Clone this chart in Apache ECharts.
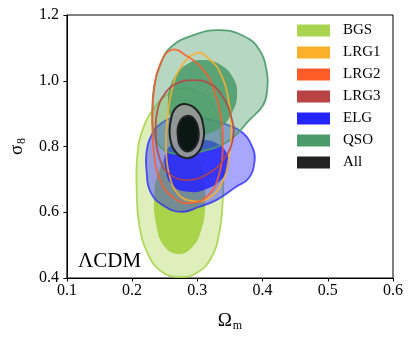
<!DOCTYPE html>
<html>
<head>
<meta charset="utf-8">
<script src="https://cdn.jsdelivr.net/npm/echarts@6/dist/echarts.min.js"></script>
<style>
  html, body { margin: 0; padding: 0; background: #fff; }
  #chart { width: 413px; height: 340px; }
</style>
</head>
<body>
<div id="chart"></div>
<script>
// tracers, in legend order
const tracers = ["BGS", "LRG1", "LRG2", "LRG3", "ELG", "QSO", "All"];
const xTicks = [0.1, 0.2, 0.3, 0.4, 0.5, 0.6];
const yTicks = [0.4, 0.6, 0.8, 1.0, 1.2];

// contour outlines, [Omega_m, sigma_8]
const bgs95 = [[0.279,0.978],[0.305,0.963],[0.323,0.926],[0.335,0.850],[0.339,0.759],[0.339,0.637],[0.333,0.531],[0.321,0.461],[0.299,0.415],[0.272,0.403],[0.246,0.418],[0.225,0.470],[0.211,0.561],[0.207,0.668],[0.208,0.774],[0.217,0.856],[0.234,0.917],[0.255,0.960]];
const bgs68 = [[0.279,0.795],[0.299,0.771],[0.309,0.713],[0.312,0.622],[0.306,0.546],[0.291,0.491],[0.270,0.473],[0.249,0.497],[0.237,0.561],[0.234,0.652],[0.242,0.729],[0.258,0.780]];
const lrg1_95 = [[0.299,1.084],[0.320,1.063],[0.335,1.024],[0.347,0.951],[0.352,0.865],[0.348,0.759],[0.336,0.683],[0.317,0.643],[0.294,0.634],[0.272,0.652],[0.257,0.713],[0.252,0.805],[0.255,0.902],[0.261,0.972],[0.272,1.033]];
const lrg2_95 = [[0.260,1.094],[0.284,1.075],[0.309,1.033],[0.324,0.981],[0.335,0.902],[0.339,0.805],[0.333,0.713],[0.317,0.652],[0.291,0.628],[0.264,0.643],[0.243,0.698],[0.233,0.789],[0.231,0.896],[0.234,0.978],[0.242,1.045]];
const lrg3_95 = [[0.294,1.002],[0.320,0.990],[0.339,0.951],[0.352,0.890],[0.355,0.829],[0.342,0.765],[0.320,0.722],[0.287,0.698],[0.257,0.716],[0.242,0.765],[0.236,0.850],[0.239,0.911],[0.249,0.957],[0.267,0.990]];
const elg95 = [[0.269,0.890],[0.309,0.887],[0.347,0.865],[0.370,0.841],[0.385,0.795],[0.388,0.759],[0.379,0.704],[0.359,0.677],[0.329,0.637],[0.302,0.616],[0.276,0.601],[0.249,0.619],[0.228,0.662],[0.222,0.729],[0.222,0.783],[0.230,0.835],[0.245,0.871]];
const elg68 = [[0.302,0.820],[0.329,0.811],[0.345,0.780],[0.347,0.738],[0.336,0.698],[0.314,0.671],[0.287,0.662],[0.261,0.683],[0.251,0.735],[0.252,0.783],[0.267,0.811]];
const qso95 = [[0.336,1.154],[0.374,1.133],[0.395,1.094],[0.406,1.033],[0.407,0.972],[0.401,0.926],[0.380,0.881],[0.350,0.820],[0.309,0.786],[0.272,0.777],[0.245,0.796],[0.233,0.844],[0.231,0.911],[0.234,0.987],[0.243,1.048],[0.258,1.100],[0.294,1.139]];
const qso68 = [[0.309,1.063],[0.336,1.048],[0.355,1.008],[0.361,0.957],[0.353,0.902],[0.336,0.859],[0.309,0.835],[0.282,0.835],[0.261,0.881],[0.255,0.941],[0.264,1.008],[0.285,1.051]];
const all95 = [[0.281,0.929],[0.299,0.911],[0.309,0.865],[0.308,0.811],[0.297,0.774],[0.282,0.765],[0.267,0.783],[0.258,0.829],[0.260,0.887],[0.267,0.917]];
const all68 = [[0.284,0.893],[0.296,0.881],[0.302,0.844],[0.299,0.808],[0.288,0.786],[0.276,0.795],[0.270,0.832],[0.273,0.875]];

const contours = {
  BGS: [bgs95, bgs68],
  LRG1: [lrg1_95],
  LRG2: [lrg2_95],
  LRG3: [lrg3_95],
  ELG: [elg95, elg68],
  QSO: [qso95, qso68],
  All: [all95, all68]
};

// colour, then fill of outer / inner region (null = outline only)
const styles = {
  BGS:  { color: "#aad44f", outer: "rgba(170,212,79,0.38)", inner: "rgba(166,209,70,0.95)", stroke: "rgba(170,212,79,0.9)", lw: 1.8 },
  LRG1: { color: "#fbb02c", outer: null, inner: null, stroke: "rgba(251,176,44,0.85)", lw: 1.8 },
  LRG2: { color: "#ff5c2a", outer: null, inner: null, stroke: "rgba(255,92,42,0.85)", lw: 1.8 },
  LRG3: { color: "#b94242", outer: null, inner: null, stroke: "rgba(185,66,66,0.85)", lw: 1.8 },
  ELG:  { color: "#2424ff", outer: "rgba(36,36,255,0.4)", inner: "rgba(36,36,255,0.85)", stroke: "rgba(36,36,255,0.75)", lw: 1.8 },
  QSO:  { color: "#4a9a6a", outer: "rgba(74,154,106,0.4)", inner: "rgba(74,154,106,0.85)", stroke: "rgba(74,154,106,0.9)", lw: 1.8 },
  All:  { color: "#222222", outer: "rgba(150,152,152,0.92)", inner: "#0b1712", stroke: "#222222", lw: 2 }
};

// draw order (legend keeps its own order)
const drawOrder = ["BGS", "ELG", "QSO", "LRG1", "LRG2", "LRG3", "All"];

const font = "Liberation Serif";

function makeSeries(name) {
  const sets = contours[name];
  const st = styles[name];
  return {
    name: name,
    type: "custom",
    coordinateSystem: "cartesian2d",
    itemStyle: { color: st.color },
    data: sets.map(c => c[0]),
    renderItem: function (params, api) {
      const pts = sets[params.dataIndex].map(p => api.coord(p));
      const outer = params.dataIndex === 0;
      const fill = outer ? st.outer : st.inner;
      return {
        type: "polygon",
        shape: { points: pts, smooth: 0.45 },
        style: {
          fill: fill || "none",
          stroke: outer || name === "All" ? st.stroke : null,
          lineWidth: st.lw
        }
      };
    }
  };
}

const chart = echarts.init(document.getElementById("chart"), null, { renderer: "canvas" });

const option = {
  animation: false,
  backgroundColor: "#fff",
  grid: { left: 61, right: 20, top: 15, bottom: 62, show: true, borderColor: "#000", borderWidth: 1 },
  legend: {
    orient: "vertical",
    left: 297,
    top: 23,
    padding: 0,
    itemWidth: 33,
    itemHeight: 12,
    itemGap: 7,
    icon: "rect",
    data: tracers,
    textStyle: { fontFamily: font, fontSize: 15, color: "#000", padding: [0, 0, 0, 8], lineHeight: 12 }
  },
  xAxis: {
    type: "value",
    min: xTicks[0],
    max: xTicks[xTicks.length - 1],
    interval: 0.1,
    name: "{a|Ω}{b|m}",
    nameLocation: "middle",
    nameGap: 33,
    nameTextStyle: {
      rich: {
        a: { fontFamily: font, fontSize: 19, color: "#000" },
        b: { fontFamily: font, fontSize: 12, color: "#000", padding: [9, 0, 0, 1] }
      }
    },
    axisLine: { lineStyle: { color: "#000", width: 1 } },
    axisTick: { inside: false, length: 3.5, lineStyle: { color: "#000" } },
    axisLabel: { margin: 5, fontFamily: font, fontSize: 16, color: "#000", formatter: v => v.toFixed(1) },
    splitLine: { show: false }
  },
  yAxis: {
    type: "value",
    min: yTicks[0],
    max: yTicks[yTicks.length - 1],
    interval: 0.2,
    name: "{a|σ}{b|8}",
    nameLocation: "middle",
    nameGap: 38,
    nameTextStyle: {
      rich: {
        a: { fontFamily: font, fontSize: 19, color: "#000" },
        b: { fontFamily: font, fontSize: 12, color: "#000", padding: [9, 0, 0, 1] }
      }
    },
    axisLine: { lineStyle: { color: "#000", width: 1 } },
    axisTick: { inside: false, length: 3.5, lineStyle: { color: "#000" } },
    axisLabel: { margin: 8, fontFamily: font, fontSize: 16, color: "#000", formatter: v => v.toFixed(1) },
    splitLine: { show: false }
  },
  graphic: [{
    type: "text",
    left: 78,
    top: 251,
    style: { text: "ΛCDM", fontFamily: font, fontSize: 21, fill: "#000" }
  }],
  series: drawOrder.map(makeSeries)
};

chart.setOption(option);
</script>
</body>
</html>
